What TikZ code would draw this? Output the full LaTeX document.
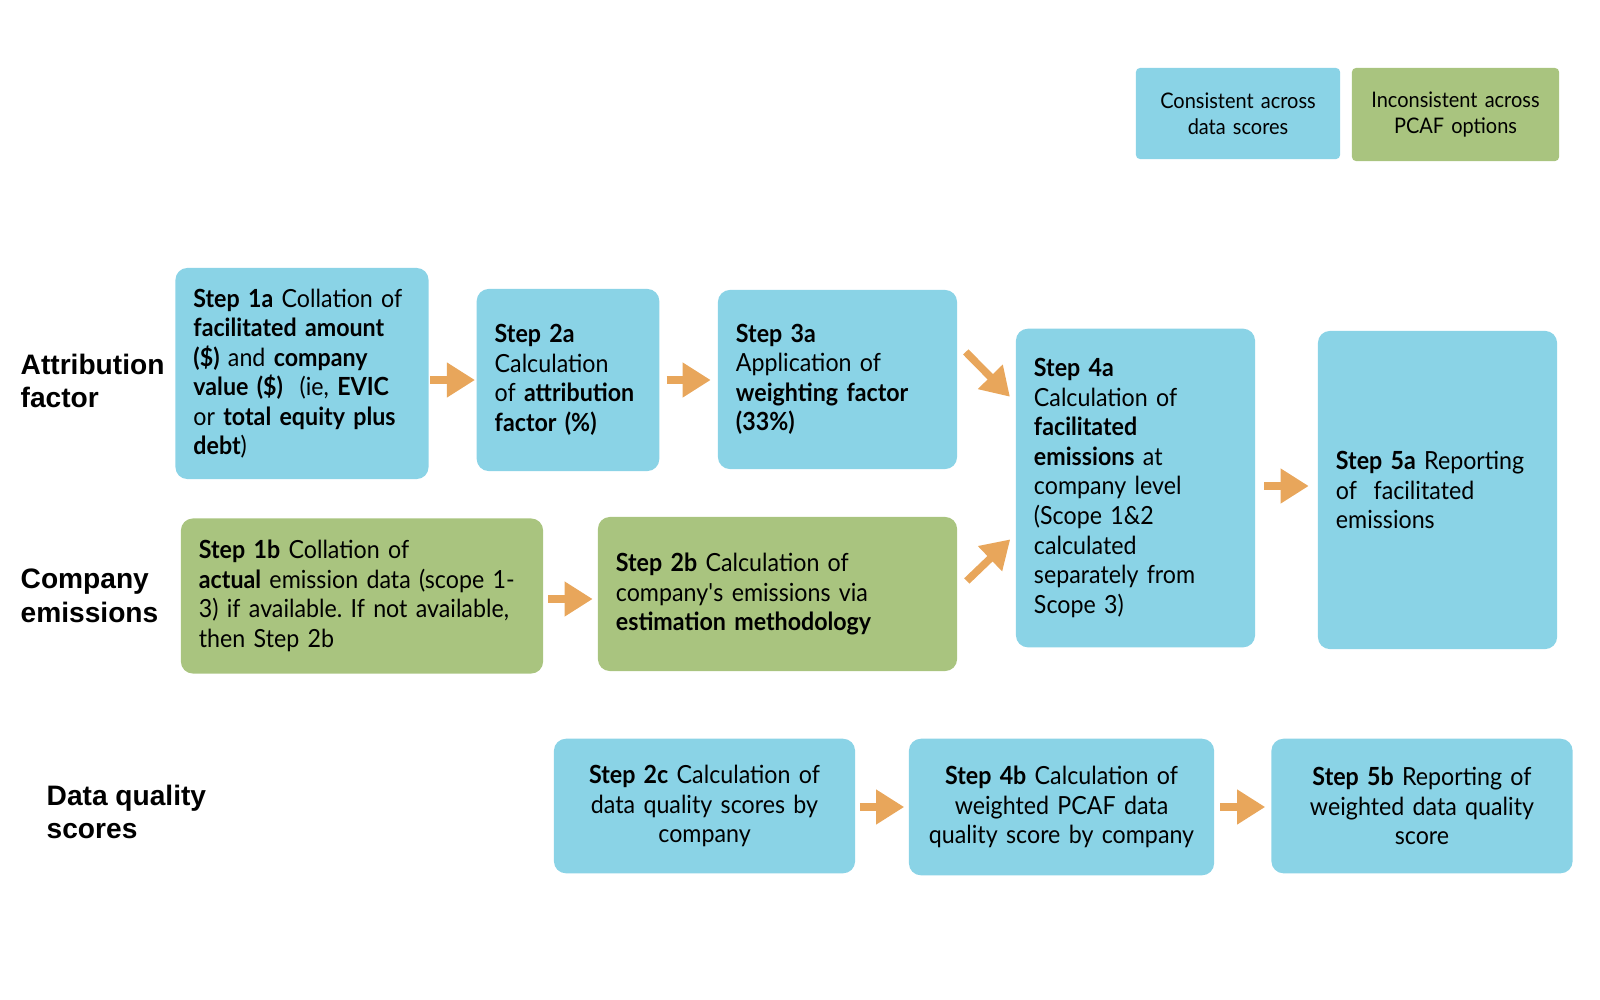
\documentclass[tikz,border=0pt]{standalone}
\usepackage{fontspec}
\setmainfont{Lato}[FakeStretch=0.93]
\newfontfamily\rowfont{Liberation Sans}
\usepackage{xcolor}
\usepackage{tikz}
\usetikzlibrary{arrows.meta,calc}
\definecolor{pcafblue}{HTML}{8AD3E6}
\definecolor{pcafgreen}{HTML}{A9C47F}
\definecolor{pcaforange}{HTML}{E8A65B}
\frenchspacing

\begin{document}
\begin{tikzpicture}[
  x=0.01cm, y=-0.01cm,
  font=\fontsize{7.1pt}{8.4pt}\selectfont,
  >={Triangle[length=0.28cm,width=0.33cm]},
  stepbox/.style={rounded corners=0.12cm, inner xsep=0.18cm, inner ysep=0pt,
                  align=left, text=black,
                  execute at begin node={\hyphenpenalty=10000\exhyphenpenalty=10000}},
  consistent/.style={stepbox, fill=pcafblue},
  inconsistent/.style={stepbox, fill=pcafgreen},
  keybox/.style={rounded corners=0.04cm, inner xsep=0.1cm, inner ysep=0pt,
                 align=center, font=\fontsize{6.1pt}{7.3pt}\selectfont},
  rowlab/.style={anchor=west, align=left, inner xsep=0pt,
                 font=\rowfont\bfseries\fontsize{8pt}{9.6pt}\selectfont},
  flow/.style={->, line width=0.075cm, pcaforange},
]
\useasboundingbox (0,0) rectangle (1600,1000);

% ── key ──────────────────────────────────────────────────────────────────
\node[keybox, fill=pcafblue, text width=1.84cm, minimum height=0.91cm]
  (keycons) at (1238,113.5) {Consistent across\\data scores};
\node[keybox, fill=pcafgreen, text width=1.87cm, minimum height=0.93cm]
  (keyincons) at (1455.5,114.5) {Inconsistent across\\PCAF options};

% ── row labels ───────────────────────────────────────────────────────────
\node[rowlab] (labattr) at (20,381) {Attribution\\factor};
\node[rowlab] (labemis) at (20,596) {Company\\emissions};
\node[rowlab] (labdq)   at (46,812) {Data quality\\scores};

% ── attribution factor row ───────────────────────────────────────────────
\node[consistent, text width=2.17cm, minimum height=2.11cm] (s1a) at (302,373.5)
  {\textbf{Step 1a} Collation of\\\textbf{facilitated amount}\\
   \textbf{(\$)} and \textbf{company}\\\textbf{value (\$)}~ (ie, \textbf{EVIC}\\
   or \textbf{total equity plus}\\\textbf{debt})};
\node[consistent, text width=1.465cm, minimum height=1.82cm] (s2a) at (568,380)
  {\textbf{Step 2a}\\Calculation\\of \textbf{attribution}\\\textbf{factor (\%)}};
\node[consistent, text width=2.03cm, minimum height=1.79cm] (s3a) at (837.5,379.5)
  {\textbf{Step 3a}\\Application of\\\textbf{weighting factor}\\\textbf{(33\%)}};
\node[consistent, text width=2.03cm, minimum height=3.185cm] (s4a) at (1135.5,488)
  {\textbf{Step 4a}\\Calculation of\\\textbf{facilitated}\\\textbf{emissions} at\\
   company level\\(Scope 1\&2\\calculated\\separately from\\Scope 3)};
\node[consistent, text width=2.03cm, minimum height=3.18cm] (s5a) at (1437.5,490)
  {\textbf{Step 5a} Reporting\\of~ facilitated\\emissions};

% ── company emissions row ────────────────────────────────────────────────
\node[inconsistent, text width=3.26cm, minimum height=1.55cm] (s1b) at (362,596)
  {\textbf{Step 1b} Collation of\\\textbf{actual} emission data (scope 1-\\
   3) if available. If not available,\\then Step 2b};
\node[inconsistent, text width=3.23cm, minimum height=1.54cm] (s2b) at (777.5,594)
  {\textbf{Step 2b} Calculation of\\company\textquotesingle s emissions via\\
   \textbf{estimation methodology}};

% ── data quality row ─────────────────────────────────────────────────────
\node[consistent, align=center, text width=2.65cm, minimum height=1.345cm]
  (s2c) at (704.5,806)
  {\textbf{Step 2c} Calculation of\\data quality scores by\\company};
\node[consistent, align=center, text width=2.69cm, minimum height=1.365cm]
  (s4b) at (1061.5,807)
  {\textbf{Step 4b} Calculation of\\weighted PCAF data\\quality score by company};
\node[consistent, align=center, text width=2.65cm, minimum height=1.345cm]
  (s5b) at (1422,806)
  {\textbf{Step 5b} Reporting of\\weighted data quality\\score};

% ── arrows ───────────────────────────────────────────────────────────────
\draw[flow, shorten <=0.01cm, shorten >=0.01cm] (s1a.east |- s2a.west) -- (s2a.west);
\draw[flow, shorten <=0.065cm, shorten >=0.065cm] (s2a.east) -- (s3a.west |- s2a.east);
\draw[flow, shorten <=0.045cm, shorten >=0.045cm]
  ([yshift=-0.05cm]s1b.east |- s2b.west) -- ([yshift=-0.05cm]s2b.west);
\draw[flow, shorten <=0.085cm, shorten >=0.085cm]
  ([yshift=0.02cm]s4a.east) -- ([yshift=0.02cm]s5a.west |- s4a.east);
\draw[flow, shorten <=0.04cm, shorten >=0.04cm] (s2c.east |- s4b.west) -- (s4b.west);
\draw[flow, shorten <=0.055cm, shorten >=0.055cm] (s4b.east) -- (s5b.west |- s4b.east);
% diagonal feeds into step 4a
\draw[flow] ($(s3a.north east)+(8,62.7)$) -- ($(s4a.north west)+(-5.3,68.8)$);
\draw[flow] ($(s2b.north east)+(9,64.7)$) -- ($(s4a.south west)+(-5,-108.7)$);
\end{tikzpicture}
\end{document}
